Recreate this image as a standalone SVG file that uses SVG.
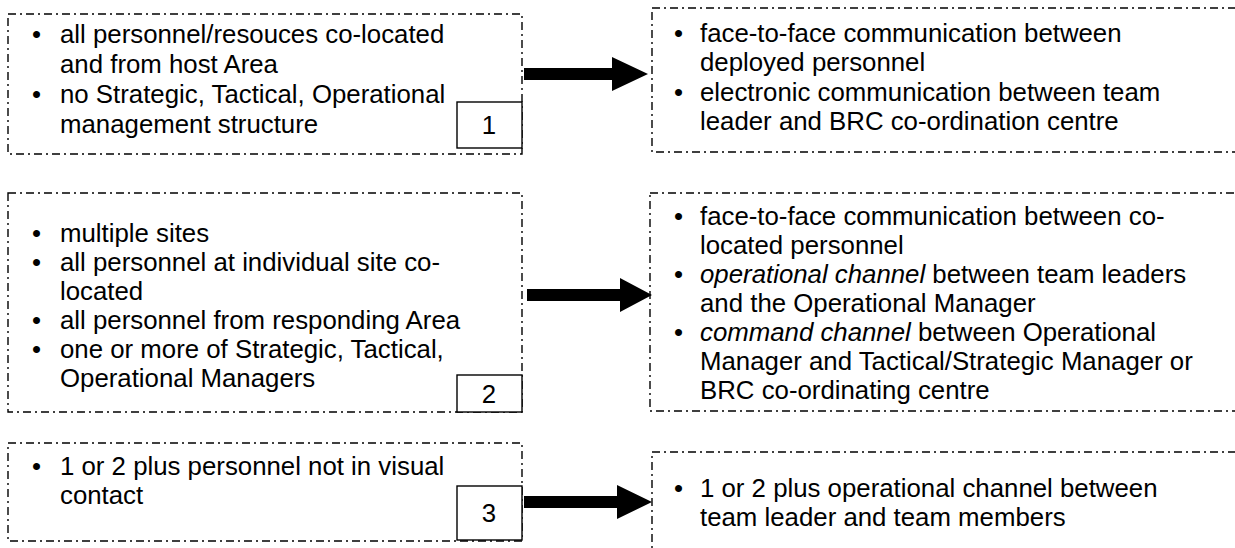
<svg xmlns="http://www.w3.org/2000/svg" width="1235" height="548" viewBox="0 0 1235 548">
<style>
.box{fill:none;stroke:#000;stroke-width:1.4;stroke-dasharray:8 4 2 4}
.num{fill:#fff;stroke:#000;stroke-width:1.4}
text{font-family:"Liberation Sans",Arial,sans-serif;font-size:25.8px;fill:#000}
.n{text-anchor:middle}
.i{font-style:italic}
</style>
<rect width="1235" height="548" fill="#fff"/>
<g id="connectors" fill="#000">
<polygon points="524,68 612,68 612,57 648,74 612,91 612,80 524,80"/>
<polygon points="527,289 620,289 620,278 652,295 620,312 620,301 527,301"/>
<polygon points="524,496 617,496 617,485 652,502 617,519 617,508 524,508"/>
</g>
<g id="n1a">
<rect class="box" x="8" y="14" width="514" height="140"/>
<text x="32" y="43">•</text><text x="60" y="43">all personnel/resouces co-located</text>
<text x="60" y="73">and from host Area</text>
<text x="32" y="103">•</text><text x="60" y="103">no Strategic, Tactical, Operational</text>
<text x="60" y="133">management structure</text>
<rect class="num" x="457" y="102" width="65" height="46"/>
<text class="n" x="489" y="134">1</text>
</g>
<g id="n1b">
<rect class="box" x="652" y="8" width="600" height="144"/>
<text x="674" y="42">•</text><text x="700" y="42">face-to-face communication between</text>
<text x="700" y="71">deployed personnel</text>
<text x="674" y="101">•</text><text x="700" y="101">electronic communication between team</text>
<text x="700" y="130">leader and BRC co-ordination centre</text>
</g>
<g id="n2a">
<rect class="box" x="8" y="193" width="514" height="219"/>
<text x="32" y="242">•</text><text x="60" y="242">multiple sites</text>
<text x="32" y="271">•</text><text x="60" y="271">all personnel at individual site co-</text>
<text x="60" y="300">located</text>
<text x="32" y="329">•</text><text x="60" y="329">all personnel from responding Area</text>
<text x="32" y="358">•</text><text x="60" y="358">one or more of Strategic, Tactical,</text>
<text x="60" y="387">Operational Managers</text>
<rect class="num" x="457" y="375" width="65" height="37"/>
<text class="n" x="489" y="403">2</text>
</g>
<g id="n2b">
<rect class="box" x="650" y="193" width="600" height="218"/>
<text x="674" y="225">•</text><text x="700" y="225">face-to-face communication between co-</text>
<text x="700" y="254">located personnel</text>
<text x="674" y="283">•</text><text x="700" y="283"><tspan class="i">operational channel</tspan> between team leaders</text>
<text x="700" y="312">and the Operational Manager</text>
<text x="674" y="341">•</text><text x="700" y="341"><tspan class="i">command channel</tspan> between Operational</text>
<text x="700" y="370">Manager and Tactical/Strategic Manager or</text>
<text x="700" y="399">BRC co-ordinating centre</text>
</g>
<g id="n3a">
<rect class="box" x="8" y="443" width="514" height="98"/>
<text x="32" y="475">•</text><text x="60" y="475">1 or 2 plus personnel not in visual</text>
<text x="60" y="504">contact</text>
<rect class="num" x="457" y="486" width="65" height="54"/>
<text class="n" x="489" y="522">3</text>
</g>
<g id="n3b">
<rect class="box" x="652" y="452" width="600" height="120"/>
<text x="674" y="497">•</text><text x="700" y="497">1 or 2 plus operational channel between</text>
<text x="700" y="526">team leader and team members</text>
</g>
</svg>
